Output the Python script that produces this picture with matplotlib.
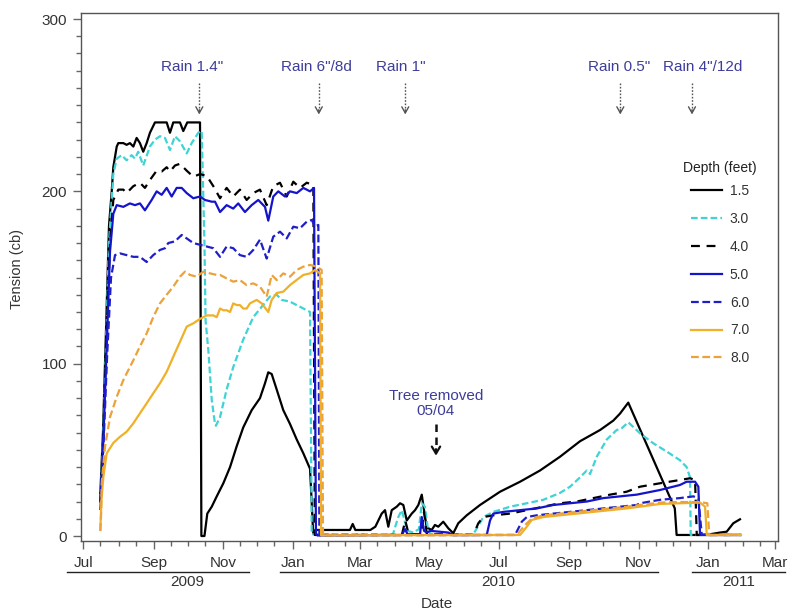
import matplotlib
matplotlib.use("Agg")
import matplotlib.pyplot as plt
import matplotlib.dates as mdates
from matplotlib.lines import Line2D
import numpy as np
import pandas as pd

plt.rcParams['font.family'] = ['Liberation Sans', 'DejaVu Sans']

# ---------------- data (x = days since START, y = tension in cb) ----------------
START = "2009-07-01"

d15_days = [15, 17.3, 20, 22.6, 25, 26.4, 29.4, 30.8, 35.2, 38.1, 41, 44, 46.9, 49.8, 52.7, 55.7, 58.6, 63,
            73.3, 76.2, 79.1, 85, 87.9, 91.4, 102.6, 103.8, 106.5, 109, 112.9, 117.3, 123.1, 129, 134.8, 140.6,
            148, 155.3, 159.7, 162.6, 165.6, 170, 175.8, 181.7, 187.6, 193.4, 199.3, 200.8, 201.6, 202.2,
            205, 234.4, 236.8, 239.1, 252.3, 256.7, 262.3, 265.2, 268.1, 271.1, 275.5, 278.4, 281.3, 284.3,
            288.7, 291.6, 294.5, 297.5, 299.5, 301.8, 306.2, 309.1, 312, 316.4, 320.8, 325.2, 329.6, 337,
            348.7, 366.3, 383.9, 401.4, 419, 436.6, 454.2, 465.9, 471.7, 479, 519.9, 521.5, 540.6, 550.8,
            559.6, 565.5, 571.3, 577.2]
d15_vals = [25, 60, 120, 180, 200, 214, 226, 228, 228, 227, 228, 226, 231, 228, 223, 228, 234, 240,
            240, 234, 240, 240, 235, 240, 240, 0, 0, 13, 17, 23, 30.6, 40, 52, 63,
            73, 80, 88.6, 95, 94, 85, 73, 65, 56, 48, 39, 19, 7.5, 1.5,
            3.5, 3.5, 7, 3.5, 3.5, 5.4, 13, 15, 5.4, 15, 17, 19, 18, 9,
            13, 15, 18, 24, 15, 5, 3.5, 6.4, 5.4, 8.3, 4.5, 1.6, 7.4, 12,
            18, 25.7, 31.5, 38, 46, 55, 61.5, 67, 71, 77.4, 16, 0.6, 0.6, 1,
            2, 2.5, 7.4, 9.7]

d30_days = [15, 17.3, 20, 22.6, 26.4, 29.4, 33.8, 38.1, 42.5, 45.4, 48.3, 52.7, 58.6, 63, 67.4, 71.8, 76.2,
            80.6, 85, 90.9, 95.3, 101.1, 104.1, 106.5, 107.5, 109.9, 112.9, 115.8, 116.6, 120.2, 126, 131.8,
            140.6, 149.4, 156.8, 164.1, 170, 174.4, 181.7, 190.5, 199.3, 200.8,
            272.2, 274, 276.9, 279.9, 282.8, 285, 290, 295, 297.5, 300.3, 303.2, 306.2, 342.8, 351.6, 360.4,
            375.1, 389.8, 404.3, 419, 427.8, 436.6, 442.5, 445.4, 451.3, 460.1, 468.8, 473.2, 479, 489.3,
            501, 512.8, 524.4, 530.3, 533.3, 533.9, 578]
d30_vals = [20, 55, 110, 170, 210, 219, 221, 218, 221, 219, 223, 215, 226, 230, 232, 231, 224,
            232, 229, 222, 228, 234, 235, 170, 125, 108, 79, 65, 64, 69, 85, 98,
            114, 127, 133, 139, 140, 137, 136, 133, 130, 1,
            1, 5, 11, 15, 8, 3, 2, 4, 19, 17, 2.5, 1, 1, 11, 14,
            17, 19, 21, 25, 28.6, 34, 38, 36, 46, 56, 61.5, 62.5, 66, 59.6,
            53.8, 49, 44, 40, 34, 0.6, 0.6]

d40_days = [15, 17.3, 20, 23.5, 26.4, 30.8, 35.2, 38.1, 44, 49.8, 54.2, 58.6, 64.5, 68.9, 73.3, 76.2, 80.6,
            85, 90.9, 96.7, 102.6, 108.5, 114.3, 120.2, 126, 131.8, 137.7, 143.6, 149.4, 155.3, 161.2, 167,
            172.9, 178.8, 184.6, 190.5, 196.4, 202.2, 203.5,
            280, 283, 286, 297, 299.5, 302, 342.8, 347.2, 351.6, 360.4, 375.1, 389.8, 404.3, 419, 433.7,
            448.3, 463, 477.6, 489.3, 506.9, 524.4, 533.3, 537.7, 539.2, 578]
d40_vals = [20, 50, 110, 170, 195, 201, 201, 199, 203, 205, 202, 206.6, 212, 211.5, 214, 211.5, 215,
            216, 212, 208.5, 210, 209, 203, 196, 202, 197, 201, 195, 199, 201, 192, 203,
            205, 197, 205.6, 202, 205, 203.7, 0.6,
            0.6, 9, 1, 1, 14, 1, 0.6, 7.4, 11, 12, 13, 15, 17, 19, 20,
            22, 24, 25.7, 28.6, 30.6, 32.5, 33.5, 32.5, 0.6, 0.6]

d50_days = [15, 17.3, 20.6, 23.5, 26.4, 29.4, 35.2, 41, 45.4, 49.8, 54.2, 60.1, 64.5, 68.9, 73.3, 77.7,
            82.1, 86.5, 90.9, 96.7, 102.6, 107, 112.9, 115.8, 120.2, 126, 131.8, 136.2, 142.1, 148, 153.8,
            159.7, 162.6, 167, 171.4, 177.3, 181.7, 187.6, 193.4, 199.3, 202.8, 204.5, 206,
            280, 282.8, 285, 296, 297.5, 299.5, 302, 305, 320.8, 325, 354.6, 357.5, 360.4, 369.2, 383.9,
            398.5, 413.1, 427.8, 442.5, 457.1, 471.7, 486.4, 506.9, 524.4, 530.3, 537.7, 540.6, 542.1, 578]
d50_vals = [20, 50, 110, 165, 187, 192, 191, 193, 192, 193, 189, 195, 200, 198, 202, 197,
            202, 202, 199, 196, 197, 195, 194, 194, 188, 192, 190, 193, 188, 192, 195,
            191, 183, 197, 200, 197, 200, 199, 202, 200, 202, 1, 0.3,
            0.6, 4, 1, 1, 11, 3, 2, 3, 2, 0.5, 0.6, 9, 13, 14, 15,
            16, 18, 19, 20, 22, 23, 24, 26.7, 29.6, 31.5, 31.5, 28.6, 0.6, 0.6]

d60_days = [15, 17.3, 21, 24.4, 27.9, 32.3, 38.1, 44, 49.8, 55.7, 61.5, 67.4, 71.8, 74.7, 80.6, 86.5, 90.9,
            96.7, 102.6, 108.5, 114.3, 120.2, 126, 131.8, 137.7, 143.6, 149.4, 155.3, 161.2, 167, 172.9,
            178.8, 184.6, 190.5, 196.4, 200.8, 203.7, 206.6, 207.5,
            379.5, 385.4, 389.8, 398.5, 413.1, 427.8, 442.5, 457.1, 471.7, 486.4, 489.3, 506.9, 524.4,
            536.2, 540.6, 543.6, 578]
d60_vals = [15, 45, 105, 150, 163, 164, 163, 162, 162, 159, 163, 166, 167, 170, 171, 174.7, 172.7,
            170, 169, 168, 167, 162, 168, 167, 163, 162, 166, 172, 161, 173.7, 176.6,
            172.7, 179.5, 178.6, 182.4, 183.4, 179.5, 180.5, 0.5,
            0.6, 8.3, 11, 12, 13, 14, 15, 16, 17, 18, 19, 21, 22,
            23, 22, 0.6, 0.6]

d70_days = [15, 16, 17.6, 20.6, 26.4, 32.3, 38.1, 44, 49.8, 55.7, 61.5, 67.4, 73.3, 79.1, 85, 90.9, 96.7,
            102.6, 108.5, 114.3, 117.3, 120.2, 123.1, 126, 129, 131.8, 134.8, 137.7, 140.6, 143.6, 146.5,
            152.4, 156.8, 162.6, 165.6, 170, 175.8, 181.7, 187.6, 193.4, 199.3, 203.7, 208.1, 209,
            383.9, 389.8, 394.1, 404.3, 419, 433.7, 448.3, 463, 477.6, 489.3, 506.9, 524.4, 542.1, 546.5,
            548, 578]
d70_vals = [3.5, 21, 34, 48, 54, 57.6, 60.5, 65.4, 71.2, 77, 82.8, 88.6, 95.3, 104, 112.7, 121.5, 123.4,
            126, 128, 128, 127, 132, 131, 131, 130, 135, 134, 134, 132, 132, 135,
            137, 135, 130, 137, 141, 141.8, 145.6, 148.6, 151.5, 152.4, 154.4, 152.4, 0.4,
            0.6, 5.4, 9.3, 11, 12, 13, 14, 15, 16, 17, 18.6, 19, 19.4, 17,
            0.6, 0.6]

d80_days = [15, 15.6, 16.2, 19.1, 23.5, 29.4, 35.2, 44, 49.8, 55.7, 61.5, 67.4, 73.3, 79.1, 85, 89.4, 93.8,
            99.7, 105.5, 111.4, 117.3, 120.2, 126, 131.8, 137.7, 143.6, 149.4, 155.3, 161.2, 165.6, 170,
            175.8, 181.7, 187.6, 193.4, 199.3, 205.2, 209.5, 210.7,
            381, 388.3, 394.1, 404.3, 419, 433.7, 448.3, 463, 477.6, 489.3, 506.9, 524.4, 542.1, 548.5,
            550.2, 578]
d80_vals = [3, 12, 30.6, 51.8, 69, 80.8, 90.5, 102, 110, 117.6, 127, 135, 140, 144.7, 150.5, 153.4, 151.5,
            150.5, 153.4, 152.4, 151.5, 151.5, 149.5, 147.6, 148.5, 145.6, 146.6, 144.7, 138.9, 151.5, 148.5,
            152.4, 150.5, 154.4, 156.3, 157.3, 156.3, 154.4, 0.4,
            0.6, 6.4, 10, 12, 13, 14, 15, 16, 17, 18, 19.4, 19.7, 19.7, 19,
            0.6, 0.6]

depth_labels = ["1.5", "3.0", "4.0", "5.0", "6.0", "7.0", "8.0"]
legend_title = "Depth (feet)"

rain_dates = ["2009-10-11", "2010-01-24", "2010-04-10", "2010-10-16", "2010-12-18"]
rain_labels = ['Rain 1.4"', 'Rain 6"/8d', 'Rain 1"', 'Rain 0.5"', 'Rain 4"/12d']
rain_text_shift_days = [-6, -2, -4, -1, 9]
tree_date = "2010-05-07"
tree_label = "Tree removed\n05/04"

year_labels = ["2009", "2010", "2011"]
year_label_dates = ["2009-09-30", "2010-07-01", "2011-01-28"]
year_line_spans = [("2009-06-17", "2009-11-24"), ("2009-12-21", "2010-11-18"), ("2010-12-18", "2011-03-10")]

# ---------------- styles ----------------
styles = [
    dict(color="#000000", ls="-"),
    dict(color="#3fd3d6", dashes=(3, 1.4)),
    dict(color="#000000", dashes=(4, 3)),
    dict(color="#1414cc", ls="-"),
    dict(color="#1f1fc8", dashes=(3.5, 1.6)),
    dict(color="#f0b028", ls="-"),
    dict(color="#eba23a", dashes=(3.5, 1.6)),
]
series = [(d15_days, d15_vals), (d30_days, d30_vals), (d40_days, d40_vals), (d50_days, d50_vals),
          (d60_days, d60_vals), (d70_days, d70_vals), (d80_days, d80_vals)]

start = pd.Timestamp(START)


def to_dates(days):
    return start + pd.to_timedelta(np.asarray(days, dtype=float), unit="D")


W, H = 788, 611
fig = plt.figure(figsize=(W / 100, H / 100), dpi=100)
ax = fig.add_axes([81 / W, 1 - 541 / H, (778 - 81) / W, (541 - 13) / H])

handles = []
for (dd, vv), st, lab in zip(series, styles, depth_labels):
    kw = dict(lw=1.6, color=st["color"], label=lab)
    if "dashes" in st:
        kw["dashes"] = st["dashes"]
    else:
        kw["ls"] = st["ls"]
    (ln,) = ax.plot(to_dates(dd), vv, **kw)
    handles.append(ln)

ax.set_xlim(start - pd.Timedelta(days=2), start + pd.Timedelta(days=610.6))
ax.set_ylim(-2.9, 303.5)

ax.yaxis.set_major_locator(plt.MultipleLocator(100))
ax.yaxis.set_minor_locator(plt.MultipleLocator(10))
ax.xaxis.set_major_locator(mdates.MonthLocator(bymonth=[1, 3, 5, 7, 9, 11]))
ax.xaxis.set_minor_locator(mdates.MonthLocator(bymonthday=[1, 16]))
ax.xaxis.set_major_formatter(mdates.DateFormatter("%b"))

for sp in ax.spines.values():
    sp.set_color("#555555")
    sp.set_linewidth(1.0)
ax.tick_params(axis="both", which="major", direction="out", length=6, width=1, color="#666666",
               labelsize=11, labelcolor="#333333")
ax.tick_params(axis="both", which="minor", direction="out", length=3.5, width=1, color="#666666")
ax.tick_params(axis="x", which="major", pad=5)
ax.tick_params(axis="y", which="major", pad=4)

# axis titles
fig.text(17 / W, 1 - 269 / H, "Tension (cb)", rotation=90, ha="center", va="center", fontsize=10.5,
         color="#333333")
fig.text(437 / W, 1 - 604 / H, "Date", ha="center", va="center", fontsize=11, color="#333333")

# year labels with lines
ann_color = "#3d3d99"
ytrans = ax.get_xaxis_transform()
for lab, ld, (s0, s1) in zip(year_labels, year_label_dates, year_line_spans):
    yl = -(572 - 541) / (541 - 13)
    yt = -(582 - 541) / (541 - 13)
    ln = Line2D([mdates.date2num(pd.Timestamp(s0)), mdates.date2num(pd.Timestamp(s1))], [yl, yl],
                transform=ytrans, color="#222222", lw=1.0, clip_on=False)
    ax.add_line(ln)
    ax.text(pd.Timestamp(ld), yt, lab, transform=ytrans, ha="center", va="center", fontsize=11,
            color="#333333", clip_on=False)

# rain annotations
for rd, rl, sh in zip(rain_dates, rain_labels, rain_text_shift_days):
    t = pd.Timestamp(rd)
    ax.text(t + pd.Timedelta(days=sh), 272, rl, ha="center", va="center", fontsize=11, color=ann_color)
    ax.plot([t, t], [263, 246], ls=(0, (1.2, 1.2)), lw=1.0, color="#555555")
    ax.annotate("", xy=(t, 243), xytext=(t, 249),
                arrowprops=dict(arrowstyle="->,head_length=0.45,head_width=0.25", lw=1.0, color="#555555"))

# tree removed
tt = pd.Timestamp(tree_date)
ax.text(tt, 77, tree_label, ha="center", va="center", fontsize=11, color=ann_color, linespacing=1.05)
ax.plot([tt, tt], [65, 49], ls=(0, (3, 2.2)), lw=1.8, color="#111111")
ax.annotate("", xy=(tt, 45), xytext=(tt, 52),
            arrowprops=dict(arrowstyle="->,head_length=0.5,head_width=0.3", lw=1.6, color="#111111"))

# legend (title drawn separately)
fig.text(720 / W, 1 - 168 / H, legend_title, ha="center", va="center", fontsize=10, color="#222222")
leg = ax.legend(handles=handles, loc="upper left",
                bbox_to_anchor=(691 / W, 1 - 184 / H), bbox_transform=fig.transFigure,
                frameon=False, fontsize=10, handlelength=2.2, handletextpad=0.6,
                labelspacing=1.0, borderaxespad=0, borderpad=0)
for txt in leg.get_texts():
    txt.set_color("#333333")

fig.savefig("out.png", dpi=100)
